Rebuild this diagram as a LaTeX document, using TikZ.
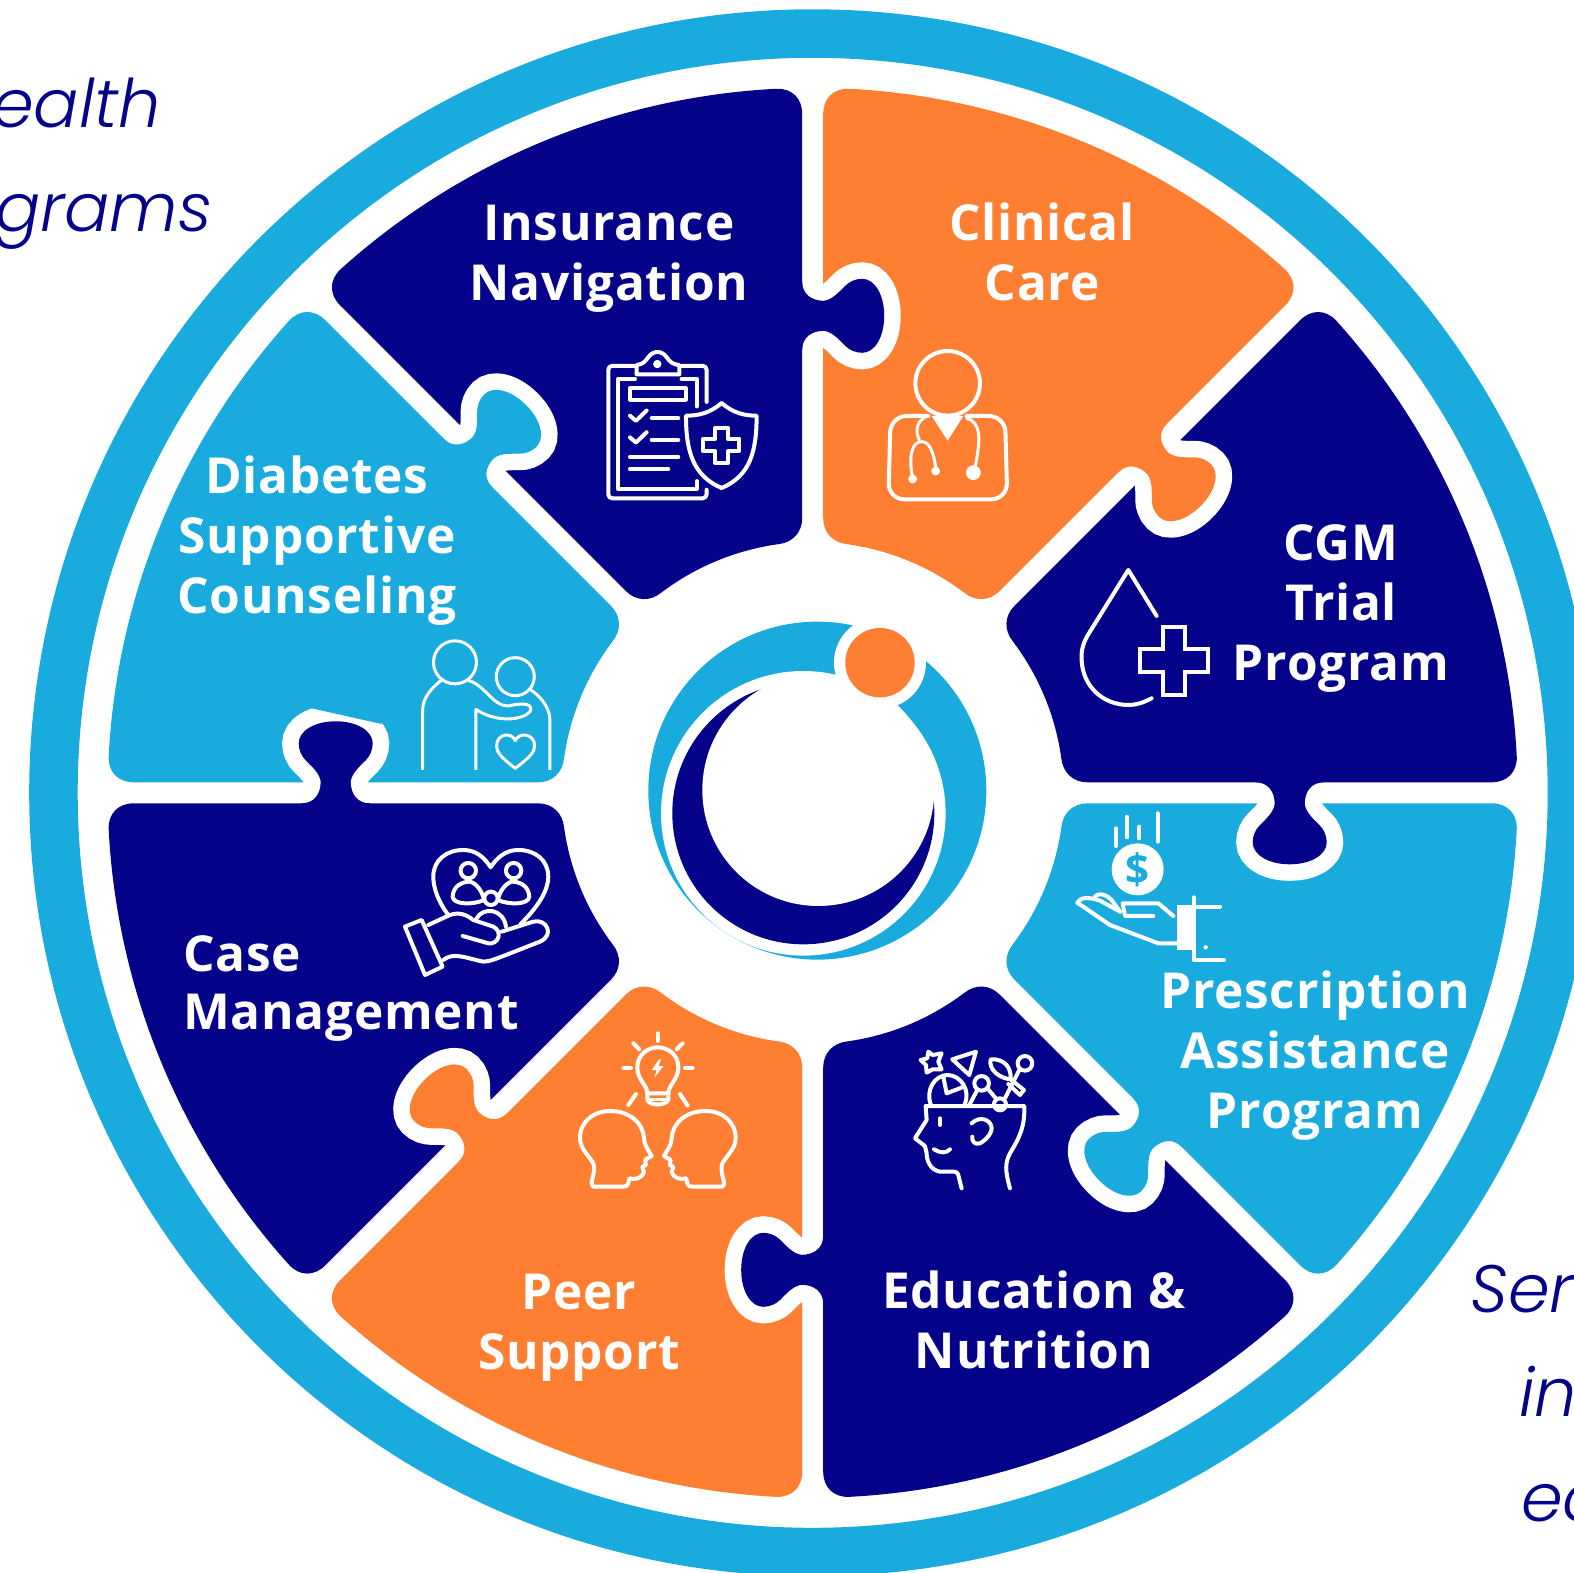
\documentclass[tikz,border=0pt]{standalone}
\usepackage{fontspec}
\setmainfont{Open Sans}
\newfontfamily\lblfont{Open Sans}[UprightFont={* Bold},LetterSpace=1.5]
\newfontfamily\popit{Poppins Light Italic}
\definecolor{navyc}{RGB}{5,3,138}
\definecolor{lightc}{RGB}{25,171,221}
\definecolor{orangec}{RGB}{255,127,50}
\newcommand{\sectorpiece}[2]{%
 \begin{scope}[shift={(812.7,792.8)},x=1pt,y=1pt,rotate=#1]
 \fill[#2] (274.8,10.5) -- (678.9,10.5) .. controls (694.5,10.5) and (1.69:705) .. (2.96:705)
   arc[start angle=2.96,end angle=42.04,radius=705pt]
   .. controls (43.31:705) and (44.134:694.58) .. (44.114:678.98) -- (42.81:275)
   .. controls (42.69:260.6) and (40.41:251) .. (37.12:251)
   arc[start angle=37.12,end angle=7.88,radius=251pt]
   .. controls (4.59:251) and (260.4,10.5) .. cycle;
 \end{scope}}
\newcommand{\tabpiece}[2]{%
 \begin{scope}[shift={(812.7,792.8)},x=1pt,y=1pt,rotate=#1]
 \begin{scope}[shift={(477,10.5)},x=1pt,y=-1pt]
 \draw[white,line width=33pt,line cap=round]
   (-15,21.7) .. controls (-16,30) and (-24,37) .. (-30,43)
   .. controls (-34,47) and (-37,53) .. (-37,60)
   .. controls (-37,72) and (-22,82) .. (0,82)
   .. controls (22,82) and (37,72) .. (37,60)
   .. controls (37,53) and (34,47) .. (30,43)
   .. controls (24,37) and (16,30) .. (15,21.7);
 \end{scope}
 \end{scope}}
\newcommand{\tabfill}[2]{%
 \begin{scope}[shift={(812.7,792.8)},x=1pt,y=1pt,rotate=#1]
 \begin{scope}[shift={(477,10.5)},x=1pt,y=-1pt]
 \fill[#2] (-34,0) .. controls (-22,0) and (-15,9) .. (-15,21.7)
   .. controls (-16,30) and (-24,37) .. (-30,43)
   .. controls (-34,47) and (-37,53) .. (-37,60)
   .. controls (-37,72) and (-22,82) .. (0,82)
   .. controls (22,82) and (37,72) .. (37,60)
   .. controls (37,53) and (34,47) .. (30,43)
   .. controls (24,37) and (16,30) .. (15,21.7)
   .. controls (15,9) and (22,0) .. (34,0) -- (34,-12) -- (-34,-12) -- cycle;
 \end{scope}
 \end{scope}}
\tikzset{
 lbl/.style={text=white,font=\lblfont\fontsize{49.6}{60.2}\selectfont,align=center,inner sep=0pt},
 outer/.style={text=navyc,font=\popit\fontsize{67}{67}\selectfont,inner sep=0pt,anchor=base west},
 ico/.style={white,line width=4pt,line cap=round,line join=round},
 icothin/.style={white,line width=3pt,line cap=round,line join=round}
}
\begin{document}
\begin{tikzpicture}[x=1pt,y=-1pt]
\useasboundingbox (0,0) rectangle (1574,1573);
\fill[white] (0,0) rectangle (1574,1573);
\begin{scope}
\clip (0,0) rectangle (1574,1573);
\coordinate (ctr) at (812.7,792.8);
\draw[lightc,line width=48.5pt] (ctr) circle[radius=759.25pt];
% pieces
\sectorpiece{0}{navyc}
\sectorpiece{45}{orangec}
\sectorpiece{90}{navyc}
\sectorpiece{135}{lightc}
\sectorpiece{180}{navyc}
\sectorpiece{225}{orangec}
\sectorpiece{270}{navyc}
\sectorpiece{315}{lightc}
% tabs
\tabpiece{0}{}\tabfill{0}{navyc}
\tabpiece{45}{}\tabfill{45}{orangec}
\tabpiece{90}{}\tabfill{90}{navyc}
\tabpiece{135}{}\tabfill{135}{lightc}
\tabpiece{180}{}
\fill[lightc] (311.7,708.3) -- (381.7,724) -- (381.7,690) -- (311.7,690) -- cycle;
\tabfill{180}{navyc}
\tabpiece{225}{}\tabfill{225}{orangec}
\tabpiece{270}{}\tabfill{270}{navyc}
\tabpiece{315}{}\tabfill{315}{lightc}
% logo, zoom coordinates
\begin{scope}[shift={(630,600)},x=0.3333pt,y=-0.3333pt]
\fill[lightc] (562,572) circle[radius=169pt];
\fill[white] (520,640) circle[radius=142.3pt];
\fill[navyc] (520,640) circle[radius=131pt];
\fill[white] (565,570) circle[radius=116pt];
\fill[white] (750,188) circle[radius=46pt];
\fill[orangec] (750,188) circle[radius=34.7pt];
\end{scope}
% labels
\node[lbl] (ins) at (609,258.5) {Insurance\\Navigation};
\node[lbl] (cli) at (1042,252) {Clinical\\Care};
\node[lbl] (cgm) at (1341,608.5) {CGM\\Trial\\Program};
\node[lbl] (pre) at (1315,1055.5) {Prescription\\Assistance\\Program};
\node[lbl] (edu) at (1034,1320) {Education \&\\Nutrition};
\node[lbl] (pee) at (579,1328) {Peer\\Support};
\node[lbl,align=left,anchor=west,font=\lblfont\fontsize{49.6}{58.5}\selectfont] (cas) at (183,988.5) {Case\\Management};
\node[lbl] (dia) at (317,540.5) {Diabetes\\Supportive\\Counseling};
% outer italic text
\node[outer] (t1) at (-8,128) {ealth};
\node[outer] (t2) at (-5,232) {grams};
\node[outer] (t3) at (1470,1312) {Ser};
\node[outer] (t4) at (1519,1416) {in};
\node[outer] (t5) at (1521,1521) {ec};
% clipboard icon
\begin{scope}[shift={(320,80)},x=0.3333pt,y=-0.3443pt]
\draw[ico,rounded corners=4pt] (1160,935) -- (1160,830) -- (1085,830);
\draw[ico,rounded corners=4pt] (945,830) -- (865,830) -- (865,1215) -- (1160,1215) -- (1160,1190);
\draw[ico] (950,855) -- (950,828) .. controls (970,825) and (975,818) .. (985,805) .. controls (1000,785) and (1025,785) .. (1040,805) .. controls (1050,818) and (1055,825) .. (1078,828) -- (1078,855) -- cycle;
\fill[white] (1012,825) circle[radius=4.2pt];
\draw[ico] (945,868) -- (895,868) -- (895,1188) -- (1130,1188) -- (1130,1165);
\draw[ico] (1085,868) -- (1130,868) -- (1130,948);
\draw[ico] (930,895) rectangle (1097,928);
\draw[ico] (930,975) -- (948,990) -- (980,960);
\draw[ico] (995,982) -- (1075,982);
\draw[ico] (930,1038) -- (948,1053) -- (980,1023);
\draw[ico] (995,1045) -- (1075,1045);
\draw[ico] (930,1095) -- (1075,1095);
\draw[ico] (930,1130) -- (1045,1130);
\draw[ico] (1205,938) .. controls (1170,968) and (1135,975) .. (1098,975) .. controls (1098,1080) and (1120,1150) .. (1205,1185) .. controls (1290,1150) and (1310,1080) .. (1310,975) .. controls (1275,975) and (1240,968) .. (1205,938) -- cycle;
\draw[ico] (1186,1010) -- (1224,1010) -- (1224,1042) -- (1258,1042) -- (1258,1078) -- (1224,1078) -- (1224,1112) -- (1186,1112) -- (1186,1078) -- (1150,1078) -- (1150,1042) -- (1186,1042) -- cycle;
\end{scope}
% doctor and drop icons
\begin{scope}[shift={(860,330)},x=0.3333pt,y=-0.3333pt]
\draw[ico] (263,160) circle[radius=32.3pt];
\draw[ico,rounded corners=16pt] (205,258) -- (92,258) -- (85,508) -- (442,508) -- (435,258) -- (320,258);
\fill[white] (215,258) -- (310,258) -- (263,332) -- cycle;
\draw[icothin] (195,262) .. controls (170,275) and (165,305) .. (178,330);
\draw[icothin] (158,445) .. controls (145,380) and (155,335) .. (185,335) .. controls (210,335) and (222,370) .. (228,420);
\draw[icothin] (320,265) .. controls (360,275) and (365,320) .. (345,412);
\fill[white] (158,447) circle[radius=4.4pt];
\fill[white] (227,423) circle[radius=4.4pt];
\fill[white] (340,428) circle[radius=7.4pt];
\draw[ico] (890,858) -- (805,720) -- (690,905) .. controls (670,935) and (663,960) .. (665,990) .. controls (668,1070) and (730,1125) .. (805,1125) .. controls (830,1125) and (850,1118) .. (875,1105);
\draw[ico,line join=miter] (908,890) -- (976,890) -- (976,957) -- (1043,957) -- (1043,1027) -- (976,1027) -- (976,1094) -- (908,1094) -- (908,1027) -- (841,1027) -- (841,957) -- (908,957) -- cycle;
\end{scope}
% money hand icon
\begin{scope}[shift={(1000,780)},x=0.3333pt,y=-0.3333pt]
\draw[ico] (347,145) -- (347,198);
\draw[ico] (381,110) -- (381,172);
\draw[ico] (418,140) -- (418,175);
\draw[ico] (473,100) -- (473,185);
\fill[white] (413,268) circle[radius=26pt];
\node[text=lightc,font=\lblfont\fontsize{42}{42}\selectfont,inner sep=0pt] (dollar) at (413,268) {\$};
\draw[ico] (530,490) -- (475,490) -- (330,435) -- (232,368) .. controls (240,352) and (265,350) .. (300,362) -- (360,395);
\draw[ico] (285,350) .. controls (300,335) and (320,345) .. (335,360) -- (360,395);
\draw[ico] (460,408) -- (375,408) -- (368,370) -- (475,370) -- (520,408);
\fill[white] (532,376) rectangle (575,510);
\draw[ico] (581,352) -- (581,540) -- (672,540);
\draw[ico] (581,380) -- (660,380);
\fill[white] (617,502) circle[radius=2.2pt];
\end{scope}
% caregiver and care hand
\begin{scope}[shift={(100,620)},x=0.3333pt,y=-0.3333pt]
\draw[icothin] (1065,127) circle[radius=21.5pt];
\draw[icothin] (1246,170) circle[radius=19pt];
\draw[icothin,line cap=butt] (968,450) -- (968,270) .. controls (968,230) and (1000,200) .. (1025,180);
\draw[icothin,line cap=butt] (1105,182) .. controls (1150,190) and (1180,260) .. (1225,258) .. controls (1280,245) and (1300,255) .. (1290,275) .. controls (1270,300) and (1190,310) .. (1128,268) -- (1128,450);
\draw[icothin,line cap=butt] (1293,210) .. controls (1330,235) and (1350,270) .. (1350,300) -- (1350,450);
\draw[icothin] (1246,445) .. controls (1200,410) and (1190,395) .. (1190,378) .. controls (1190,340) and (1235,335) .. (1246,362) .. controls (1257,335) and (1304,340) .. (1304,378) .. controls (1304,395) and (1292,410) .. (1246,445) -- cycle;
\draw[ico] (1045,885) .. controls (1015,845) and (1000,805) .. (1000,770) .. controls (1000,720) and (1040,690) .. (1090,690) .. controls (1130,690) and (1155,715) .. (1172,742) .. controls (1190,715) and (1215,690) .. (1255,690) .. controls (1305,690) and (1345,720) .. (1345,770) .. controls (1345,820) and (1300,875) .. (1262,912);
\draw[ico] (1105,752) circle[radius=7.7pt];
\draw[ico] (1241,752) circle[radius=7.7pt];
\draw[ico] (1173,835) circle[radius=6.7pt];
\draw[ico] (1058,830) .. controls (1060,795) and (1090,785) .. (1110,785) .. controls (1130,790) and (1148,815) .. (1152,840) .. controls (1120,855) and (1060,855) .. (1058,830) -- cycle;
\draw[ico] (1288,830) .. controls (1286,795) and (1256,785) .. (1236,785) .. controls (1216,790) and (1198,815) .. (1194,840) .. controls (1226,855) and (1286,855) .. (1288,830) -- cycle;
\draw[ico] (1130,895) .. controls (1150,860) and (1210,865) .. (1218,920);
\draw[ico] (915,920) -- (965,900) -- (1028,1040) -- (975,1065) -- cycle;
\draw[ico] (985,915) -- (1050,885) .. controls (1080,875) and (1100,885) .. (1120,900) -- (1180,920) .. controls (1210,935) and (1195,975) .. (1165,970) -- (1088,948);
\draw[ico] (1030,1020) .. controls (1060,995) and (1100,1015) .. (1150,1025) .. controls (1170,1025) and (1180,1020) .. (1320,965) .. controls (1365,945) and (1340,895) .. (1300,905) -- (1205,935);
\end{scope}
% peer and brain icons
\begin{scope}[shift={(560,1010)},x=0.3333pt,y=-0.3333pt]
\draw[ico] (262,250) .. controls (262,225) and (232,210) .. (232,172) .. controls (232,135) and (262,112) .. (293,112) .. controls (325,112) and (355,135) .. (355,172) .. controls (355,210) and (325,225) .. (325,250) -- cycle;
\draw[ico] (262,250) -- (262,270) .. controls (270,288) and (315,288) .. (325,270) -- (325,250);
\draw[icothin] (262,268) -- (325,268);
\draw[ico] (293,70) -- (293,93);
\draw[ico] (220,100) -- (238,118);
\draw[ico] (368,100) -- (350,118);
\draw[ico] (190,173) -- (213,173);
\draw[ico] (375,173) -- (398,173);
\draw[ico] (205,285) -- (228,252);
\draw[ico] (383,287) -- (360,252);
\fill[white] (297,148) -- (275,180) -- (290,180) -- (284,202) -- (311,168) -- (296,168) -- (303,148) -- cycle;
\draw[ico] (100,530) .. controls (85,520) and (110,490) .. (100,460) .. controls (85,435) and (60,415) .. (60,385) .. controls (60,335) and (100,303) .. (150,303) .. controls (210,303) and (250,340) .. (252,385) .. controls (252,405) and (265,420) .. (275,438) -- (255,450) -- (258,465) -- (247,470) -- (252,487) .. controls (245,505) and (225,510) .. (208,505) .. controls (205,520) and (205,530) .. (190,530) -- cycle;
\draw[ico] (487,530) .. controls (502,520) and (477,490) .. (487,460) .. controls (502,435) and (527,415) .. (527,385) .. controls (527,335) and (487,303) .. (437,303) .. controls (377,303) and (337,340) .. (335,385) .. controls (335,405) and (322,420) .. (312,438) -- (332,450) -- (329,465) -- (340,470) -- (335,487) .. controls (342,505) and (362,510) .. (379,505) .. controls (382,520) and (382,530) .. (397,530) -- cycle;
\draw[ico] (1205,535) -- (1195,495) .. controls (1192,485) and (1185,485) .. (1175,485) -- (1140,485) .. controls (1110,480) and (1100,450) .. (1100,430) -- (1095,408) -- (1065,385) -- (1100,330) -- (1097,288) -- (1393,288) .. controls (1395,350) and (1380,380) .. (1350,430) .. controls (1335,460) and (1335,480) .. (1350,535);
\draw[ico] (1140,325) -- (1140,345);
\draw[ico] (1122,418) .. controls (1140,430) and (1160,430) .. (1170,418);
\draw[ico] (1235,340) .. controls (1260,315) and (1295,330) .. (1295,355) .. controls (1295,375) and (1270,395) .. (1260,400) .. controls (1245,405) and (1235,395) .. (1237,380);
\draw[ico] (1113,285) .. controls (1095,240) and (1125,195) .. (1163,195) .. controls (1200,195) and (1235,240) .. (1213,285);
\draw[ico] (1150,200) -- (1160,250) -- (1207,232);
\draw[ico] (1105,125) -- (1118,135) -- (1145,130) -- (1135,155) -- (1145,178) -- (1118,178) -- (1100,188) -- (1098,165) -- (1082,150) -- (1102,145) -- cycle;
\draw[ico] (1177,148) -- (1248,125) -- (1228,195) -- cycle;
\draw[ico] (1265,220) circle[radius=7.3pt];
\draw[ico] (1320,283) circle[radius=6pt];
\draw[ico] (1395,160) circle[radius=7.3pt];
\draw[ico] (1228,285) -- (1252,240);
\draw[ico] (1285,238) -- (1310,268);
\draw[ico] (1335,265) -- (1378,180);
\draw[ico] (1292,148) .. controls (1335,145) and (1355,175) .. (1352,208) .. controls (1320,205) and (1285,180) .. (1292,148) -- cycle;
\draw[ico] (1352,208) -- (1392,240) -- (1380,255) -- (1345,222);
\end{scope}
\end{scope}
\end{tikzpicture}
\end{document}
